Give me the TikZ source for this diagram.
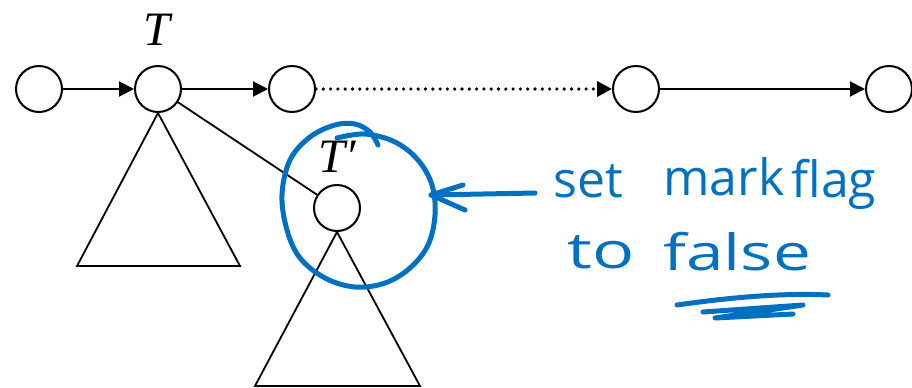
\documentclass[tikz,border=0pt]{standalone}
\usepackage{fontspec}
\newfontfamily\handfont{Open Sans}
\newfontfamily\labelfont{Liberation Serif}
\usetikzlibrary{arrows.meta}
\definecolor{inkblue}{RGB}{0,112,192}
\begin{document}
\begin{tikzpicture}[x=0.5pt,y=-0.5pt,
  listnode/.style={circle,draw,line width=1pt,minimum size=23pt,inner sep=0pt},
  link/.style={line width=1pt,-{Triangle[length=7.5pt,width=7.5pt]}},
  treeedge/.style={line width=0.9pt},
  ink/.style={draw=inkblue,line width=2.5pt,line cap=round,line join=round},
  hand/.style={text=inkblue,font=\handfont\fontsize{25}{30}\selectfont,inner sep=0pt,anchor=base west},
  lbl/.style={font=\labelfont\itshape\fontsize{24}{28}\selectfont,inner sep=0pt}]
\useasboundingbox (0,0) rectangle (912,387);

% linked list
\node[listnode] (a) at (39,89) {};
\node[listnode] (t) at (158,89) {};
\node[listnode] (c) at (292,89) {};
\node[listnode] (d) at (636,89) {};
\node[listnode] (e) at (889,89) {};
\node[listnode] (tp) at (337,208) {};

\node[lbl,anchor=base] (tl) at (157,45) {T};
\node[lbl,anchor=base] (tpl) at (337,172) {T′};

\draw[link] (a) -- (t);
\draw[link] (t) -- (c);
\draw[link,line width=1.8pt,line cap=round,dash pattern=on 0pt off 3.65pt] (c) -- (d);
\draw[link] (d) -- (e);

% subtrees
\coordinate (l1) at (77,266);
\coordinate (r1) at (240,266);
\coordinate (l2) at (255,386);
\coordinate (r2) at (420,386);
\draw[treeedge] (t) -- (tp);
\draw[treeedge,line join=miter] (t.south) -- (l1) -- (r1) -- cycle;
\draw[treeedge,line join=miter] (tp.south) -- (l2) -- (r2) -- cycle;

% hand-drawn annotation
\draw[ink] plot[smooth,tension=0.6] coordinates {(337,138) (365,134) (395,142) (418,160) (432,185) (435,215) (428,245) (410,268) (385,283) (355,287) (325,278) (300,258) (287,230) (282,195) (290,160) (310,137) (335,125) (355,124) (370,132) (378,145)};

\coordinate (ah) at (431,195);
\draw[ink] (535,193) -- (ah);
\draw[ink] (463,185) -- (ah) -- (465,210);

\node[hand] (w1) at (553,197) {set};
\node[hand] (w2) at (663,195) {mark};
\node[hand] (w3) at (791,197) {flag};
\node[hand] (w4) at (567,268) {\scalebox{1.4}[1]{to}};
\node[hand] (w5) at (663,270) {\scalebox{1.35}[1]{false}};

\draw[ink] (677,305) .. controls (740,296) and (790,293) .. (828,295);
\draw[ink] (703,312) -- (803,305) -- (715,318) -- (793,314);
\end{tikzpicture}
\end{document}
